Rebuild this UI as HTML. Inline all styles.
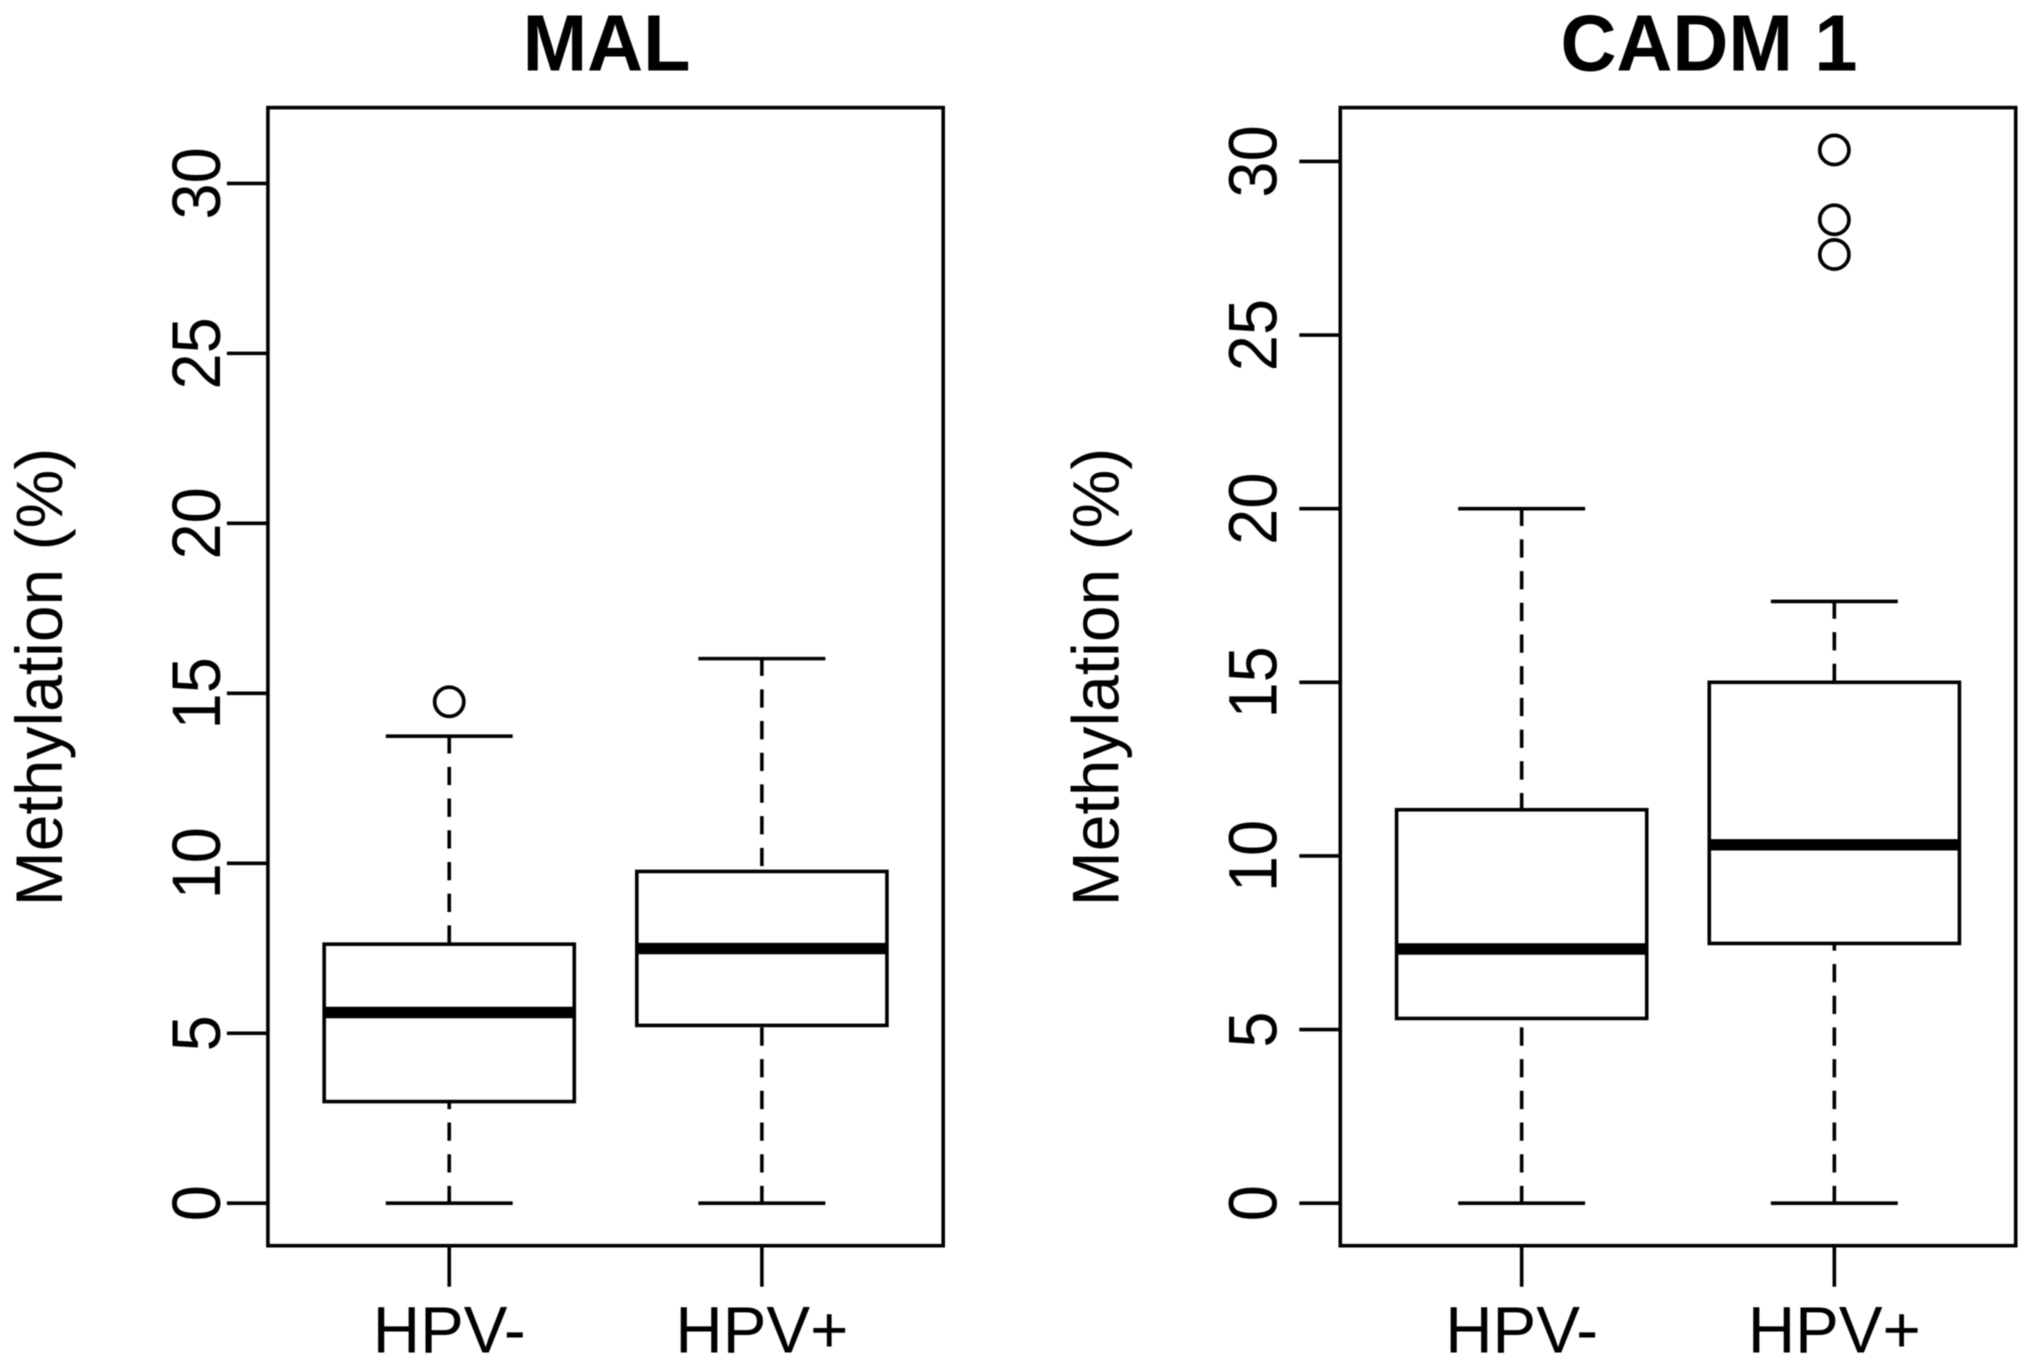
<!DOCTYPE html>
<html lang="en">
<head>
<meta charset="utf-8">
<title>MAL and CADM 1 methylation boxplots</title>
<style>
  html, body { margin: 0; padding: 0; background: #fff; }
  svg { display: block; filter: blur(0.6px); }
  text { font-family: "Liberation Sans", Arial, sans-serif; fill: #000; }
</style>
</head>
<body>
<svg id="figure" xmlns="http://www.w3.org/2000/svg" width="2031" height="1367" viewBox="0 0 2031 1367">
  <rect x="0" y="0" width="2031" height="1367" fill="#fff"/>
  <text x="0" y="0" transform="translate(606.5 70.5) scale(1 1.03)" text-anchor="middle" font-size="77.5" font-weight="700">MAL</text>
  <text x="0" y="0" transform="translate(1709 70.5) scale(1 1.03)" text-anchor="middle" font-size="77.5" font-weight="700">CADM 1</text>
  <text x="0" y="0" transform="translate(62 677) rotate(-90)" text-anchor="middle" font-size="66">Methylation (%)</text>
  <text x="0" y="0" transform="translate(1118.5 677) rotate(-90)" text-anchor="middle" font-size="66">Methylation (%)</text>
  <g id="panel-mal"></g>
  <g id="panel-cadm1"></g>
</svg>
<script>
// Chart data
const categories = ['HPV-', 'HPV+'];
const yTickValues = [0, 5, 10, 15, 20, 25, 30];

const malWhiskerLow = [0, 0];
const malQ1 = [2.99, 5.23];
const malMedian = [5.61, 7.49];
const malQ3 = [7.62, 9.76];
const malWhiskerHigh = [13.74, 16.02];
const malOutliersNeg = [14.75];
const malOutliersPos = [];

const cadmWhiskerLow = [0, 0];
const cadmQ1 = [5.32, 7.48];
const cadmMedian = [7.32, 10.32];
const cadmQ3 = [11.33, 15];
const cadmWhiskerHigh = [20, 17.33];
const cadmOutliersNeg = [];
const cadmOutliersPos = [30.33, 28.32, 27.32];

const SVG_NS = 'http://www.w3.org/2000/svg';
const STROKE = 3.6;
const FRAME_TOP = 107.6;
const FRAME_BOTTOM = 1245.7;
const TICK_LEN = 41;

function mk(tag, attrs, parent) {
  const el = document.createElementNS(SVG_NS, tag);
  for (const k in attrs) el.setAttribute(k, attrs[k]);
  parent.appendChild(el);
  return el;
}

function seg(parent, x1, y1, x2, y2, width, dash) {
  const attrs = { x1: x1, y1: y1, x2: x2, y2: y2, stroke: '#000', 'stroke-width': width };
  if (dash) {
    attrs['stroke-dasharray'] = dash;
    attrs['stroke-dashoffset'] = 1;
  }
  return mk('line', attrs, parent);
}

function drawPanel(parent, prefix, frameLeft, frameRight, yMin, yMax, labelBaselineX, s) {
  const xScale = function (pos) {
    return frameLeft + (pos - 0.42) / 2.16 * (frameRight - frameLeft);
  };
  const yScale = function (v) {
    return FRAME_BOTTOM - (v - yMin) / (yMax - yMin) * (FRAME_BOTTOM - FRAME_TOP);
  };
  const unitX = xScale(2) - xScale(1);

  categories.forEach(function (cat, i) {
    const cx = xScale(i + 1);
    const group = mk('g', {}, parent);
    
    

    const upper = seg(group, cx, yScale(s.high[i]), cx, yScale(s.q3[i]), STROKE, '18.3 13.4');
    
    

    const lower = seg(group, cx, yScale(s.low[i]), cx, yScale(s.q1[i]), STROKE, '18.3 13.4');
    
    

    const capHigh = seg(group, cx - 0.203 * unitX, yScale(s.high[i]), cx + 0.203 * unitX, yScale(s.high[i]), STROKE);
    
    

    const capLow = seg(group, cx - 0.203 * unitX, yScale(s.low[i]), cx + 0.203 * unitX, yScale(s.low[i]), STROKE);
    
    

    const box = mk('rect', {
      x: cx - 0.4 * unitX,
      y: yScale(s.q3[i]),
      width: 0.8 * unitX,
      height: yScale(s.q1[i]) - yScale(s.q3[i]),
      fill: '#fff',
      stroke: '#000',
      'stroke-width': STROKE
    }, group);
    
    

    const median = seg(group, cx - 0.4 * unitX, yScale(s.median[i]), cx + 0.4 * unitX, yScale(s.median[i]), 11.4);
    
    

    s.outliers[i].forEach(function (v) {
      const pt = mk('circle', { cx: cx, cy: yScale(v), r: 14.6, fill: 'none', stroke: '#000', 'stroke-width': 3.7 }, group);
      
      
    });

    const xTick = seg(parent, cx, FRAME_BOTTOM, cx, FRAME_BOTTOM + TICK_LEN, STROKE);
    
    

    const xLabel = mk('text', { x: cx, y: 1352.6, 'text-anchor': 'middle', 'font-size': 65.5 }, parent);
    xLabel.textContent = cat;
    
    
  });

  yTickValues.forEach(function (v) {
    const y = yScale(v);
    const tick = seg(parent, frameLeft - TICK_LEN, y, frameLeft, y, STROKE);
    
    

    const label = mk('text', {
      x: 0,
      y: 0,
      transform: 'translate(' + labelBaselineX + ' ' + y + ') rotate(-90) scale(1 1.06)',
      'text-anchor': 'middle',
      'font-size': 65
    }, parent);
    label.textContent = String(v);
    
    
  });

  const frame = mk('rect', {
    x: frameLeft,
    y: FRAME_TOP,
    width: frameRight - frameLeft,
    height: FRAME_BOTTOM - FRAME_TOP,
    fill: 'none',
    stroke: '#000',
    'stroke-width': STROKE
  }, parent);
  
  
}

drawPanel(document.getElementById('panel-mal'), 'mal', 267.9, 943.2, -1.25, 32.23, 220, {
  low: malWhiskerLow,
  q1: malQ1,
  median: malMedian,
  q3: malQ3,
  high: malWhiskerHigh,
  outliers: [malOutliersNeg, malOutliersPos]
});

drawPanel(document.getElementById('panel-cadm1'), 'cadm1', 1340.3, 2015.7, -1.224, 31.55, 1276.5, {
  low: cadmWhiskerLow,
  q1: cadmQ1,
  median: cadmMedian,
  q3: cadmQ3,
  high: cadmWhiskerHigh,
  outliers: [cadmOutliersNeg, cadmOutliersPos]
});
</script>
</body>
</html>
